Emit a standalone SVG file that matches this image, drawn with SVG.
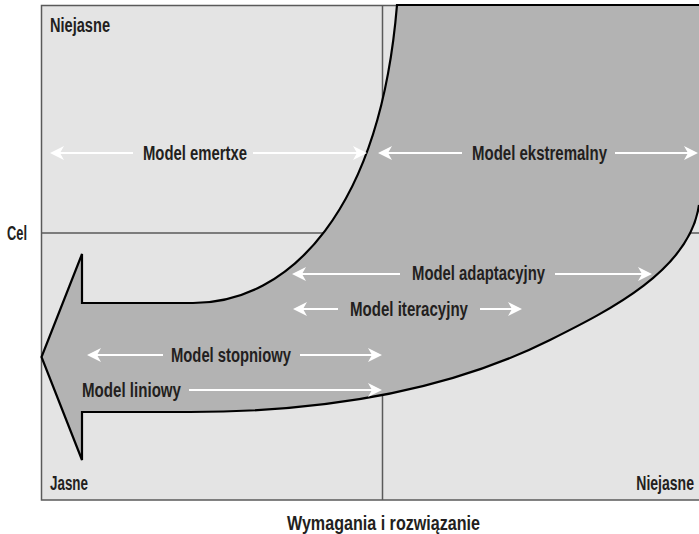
<svg xmlns="http://www.w3.org/2000/svg" width="699" height="534" viewBox="0 0 699 534">
<style>
.lbl{font-family:"Liberation Sans Narrow","Liberation Sans",Arial,sans-serif;font-size:19.5px;font-weight:bold;fill:#231f20}
.grid{stroke:#5a5a5a;stroke-width:1.5;fill:none}
.wa{stroke:#ffffff;stroke-width:2;fill:none;marker-end:url(#ah)}
</style>
<defs>
<marker id="ah" viewBox="0 0 14 14" refX="7" refY="7" markerWidth="14" markerHeight="14" markerUnits="userSpaceOnUse" orient="auto">
<path d="M0,0 L14,7 L0,14 L4,7 Z" fill="#ffffff"/>
</marker>
</defs>
<rect x="0" y="0" width="699" height="534" fill="#ffffff"/>
<g id="frame">
<rect x="41.5" y="5.5" width="659" height="494.5" fill="#e4e4e4" stroke="#5a5a5a" stroke-width="1.5"/>
<line class="grid" x1="41.5" y1="233" x2="699" y2="233"/>
<line class="grid" x1="382.5" y1="5.5" x2="382.5" y2="500"/>
</g>
<g id="flow-arrow">
<path d="M397,5 L699,5 L699,205 C690,270 610,310 550,340 C490,370 380,412 190,412 L82,412 L82,460 L41.5,357 L82,254 L82,303 L193,303 C290,303 380,210 397,5 Z" fill="#b3b3b3"/>
<path d="M699,5 L397,5 C380,210 290,303 193,303 L82,303 L82,254 L41.5,357 L82,460 L82,412 L190,412 C380,412 490,370 550,340 C610,310 690,270 699,205" fill="none" stroke="#000000" stroke-width="2.2" stroke-linejoin="miter"/>
</g>
<g id="connectors">
<line class="wa" x1="133" y1="153" x2="57" y2="153"/>
<line class="wa" x1="253" y1="153" x2="360" y2="153"/>
<line class="wa" x1="462" y1="153" x2="385" y2="153"/>
<line class="wa" x1="615" y1="153" x2="691" y2="153"/>
<line class="wa" x1="400" y1="274" x2="299" y2="274"/>
<line class="wa" x1="555" y1="274" x2="645" y2="274"/>
<line class="wa" x1="338" y1="309" x2="300" y2="309"/>
<line class="wa" x1="480" y1="309" x2="515" y2="309"/>
<line class="wa" x1="163" y1="355" x2="94" y2="355"/>
<line class="wa" x1="300" y1="355" x2="375" y2="355"/>
<line class="wa" x1="189" y1="390" x2="375" y2="390"/>
</g>
<g id="labels">
<text class="lbl" x="50" y="32" textLength="60" lengthAdjust="spacingAndGlyphs">Niejasne</text>
<text class="lbl" x="7" y="240" textLength="20" lengthAdjust="spacingAndGlyphs">Cel</text>
<text class="lbl" x="50" y="490" textLength="38" lengthAdjust="spacingAndGlyphs">Jasne</text>
<text class="lbl" transform="translate(694,490) scale(0.72,1)" x="0" y="0" text-anchor="end">Niejasne</text>
<text class="lbl" x="287" y="530" textLength="193" lengthAdjust="spacingAndGlyphs">Wymagania i rozwiązanie</text>
</g>
<g id="model-emertxe"><text class="lbl" x="143" y="160" textLength="104" lengthAdjust="spacingAndGlyphs">Model emertxe</text></g>
<g id="model-ekstremalny"><text class="lbl" x="472" y="160" textLength="135" lengthAdjust="spacingAndGlyphs">Model ekstremalny</text></g>
<g id="model-adaptacyjny"><text class="lbl" x="412" y="280" textLength="133" lengthAdjust="spacingAndGlyphs">Model adaptacyjny</text></g>
<g id="model-iteracyjny"><text class="lbl" x="350" y="316" textLength="118" lengthAdjust="spacingAndGlyphs">Model iteracyjny</text></g>
<g id="model-stopniowy"><text class="lbl" x="171" y="362" textLength="120" lengthAdjust="spacingAndGlyphs">Model stopniowy</text></g>
<g id="model-liniowy"><text class="lbl" x="82" y="397" textLength="99" lengthAdjust="spacingAndGlyphs">Model liniowy</text></g>
</svg>
